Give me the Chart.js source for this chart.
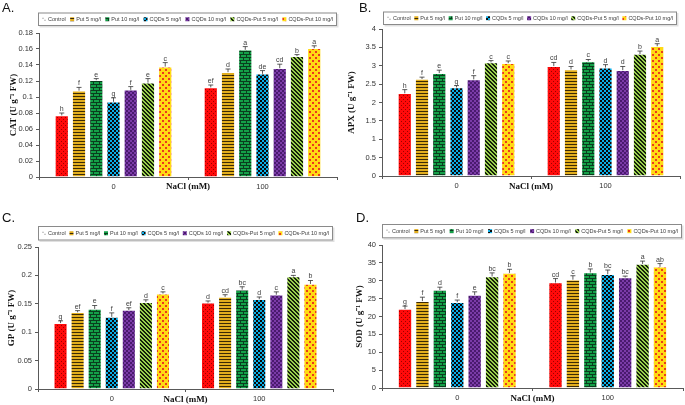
<!DOCTYPE html>
<html><head><meta charset="utf-8">
<script src="https://cdn.jsdelivr.net/npm/chart.js@4.4.1/dist/chart.umd.min.js"></script>
<style>
html,body{margin:0;padding:0;background:#fff;}
body{width:685px;height:405px;position:relative;overflow:hidden;}
.panel{position:absolute;}
.lab{position:absolute;font-family:'Liberation Sans',Arial,sans-serif;font-size:13px;color:#111;line-height:1;}
</style></head><body>
<div class="panel" style="left:0;top:0;width:340px;height:200px"><canvas id="cA"></canvas></div>
<div class="panel" style="left:340px;top:0;width:345px;height:200px"><canvas id="cB"></canvas></div>
<div class="panel" style="left:0;top:200px;width:340px;height:205px"><canvas id="cC"></canvas></div>
<div class="panel" style="left:340px;top:200px;width:345px;height:205px"><canvas id="cD"></canvas></div>
<div class="lab" style="left:2px;top:1px">A.</div>
<div class="lab" style="left:359px;top:1px">B.</div>
<div class="lab" style="left:2px;top:211px">C.</div>
<div class="lab" style="left:356px;top:211px">D.</div>
<script>
// ---------- DATA ----------
const categories = ['0', '100'];
const seriesNames = ['Control', 'Put 5 mg/l', 'Put 10 mg/l', 'CQDs 5 mg/l', 'CQDs 10 mg/l', 'CQDs-Put 5 mg/l', 'CQDs-Put 10 mg/l'];

// A. CAT (one row per series: [NaCl 0, NaCl 100])
const catValues  = [[0.077, 0.112], [0.108, 0.131], [0.121, 0.159], [0.094, 0.129], [0.109, 0.136], [0.118, 0.151], [0.138, 0.161]];
const catErrors  = [[0.003, 0.003], [0.004, 0.004], [0.002, 0.004], [0.005, 0.004], [0.004, 0.005], [0.005, 0.002], [0.005, 0.003]];
const catLetters = [['h', 'ef'], ['f', 'd'], ['e', 'a'], ['g', 'de'], ['f', 'cd'], ['e', 'b'], ['c', 'a']];

// B. APX
const apxValues  = [[2.25, 2.99], [2.64, 2.90], [2.80, 3.12], [2.41, 2.95], [2.63, 2.88], [3.09, 3.32], [3.07, 3.53]];
const apxErrors  = [[0.10, 0.10], [0.05, 0.08], [0.08, 0.05], [0.05, 0.08], [0.10, 0.10], [0.05, 0.08], [0.06, 0.07]];
const apxLetters = [['h', 'cd'], ['f', 'd'], ['e', 'c'], ['g', 'd'], ['f', 'd'], ['c', 'b'], ['c', 'a']];

// C. GP
const gpValues  = [[0.116, 0.152], [0.135, 0.162], [0.141, 0.175], [0.127, 0.158], [0.139, 0.166], [0.153, 0.198], [0.168, 0.185]];
const gpErrors  = [[0.004, 0.003], [0.003, 0.004], [0.006, 0.005], [0.007, 0.004], [0.004, 0.005], [0.004, 0.002], [0.003, 0.006]];
const gpLetters = [['g', 'd'], ['ef', 'cd'], ['e', 'bc'], ['f', 'd'], ['ef', 'c'], ['d', 'a'], ['c', 'b']];

// D. SOD
const sodValues  = [[22.1, 29.5], [24.3, 30.3], [27.4, 32.3], [24.0, 31.8], [26.0, 30.9], [31.2, 34.7], [32.2, 33.9]];
const sodErrors  = [[0.8, 1.1], [1.1, 1.1], [0.8, 1.0], [0.6, 1.2], [0.9, 0.4], [1.0, 0.8], [1.0, 0.9]];
const sodLetters = [['g', 'cd'], ['f', 'c'], ['d', 'b'], ['f', 'bc'], ['e', 'bc'], ['bc', 'a'], ['b', 'ab']];

// axis ranges [min, max, step] and titles
const catAxis = [0, 0.18, 0.02];
const apxAxis = [0, 4, 0.5];
const gpAxis  = [0, 0.25, 0.05];
const sodAxis = [0, 40, 5];
const yTitles = ['CAT (U g\u207B\u00B9 FW)', 'APX (U g\u207B\u00B9 FW)', 'GP (U g\u207B\u00B9 FW)', 'SOD (U g\u207B\u00B9 FW)'];
const xTitle = 'NaCl (mM)';

// ---------- STYLES ----------
const SANS = "'Liberation Sans', Arial, sans-serif";
const SERIF = "'Liberation Serif', 'Times New Roman', serif";

function makePattern(w, h, bg, fg, draw) {
  const c = document.createElement('canvas'); c.width = w; c.height = h;
  const g = c.getContext('2d');
  g.fillStyle = bg; g.fillRect(0, 0, w, h);
  g.fillStyle = fg; draw(g);
  return g.createPattern(c, 'repeat');
}
const patterns = [
  makePattern(4, 4, '#FF0A0A', '#9a0000', g => { g.fillRect(1, 1, 1, 1); g.fillRect(3, 3, 1, 1); }),
  makePattern(3, 3, '#E2AE1E', '#3B2A05', g => { g.fillRect(0, 0, 3, 1); }),
  makePattern(6, 6, '#14A048', '#0A3D1E', g => { g.fillRect(0, 0, 6, 1); g.fillRect(0, 3, 6, 1); g.fillRect(0, 1, 1, 2); g.fillRect(3, 4, 1, 2); }),
  makePattern(4, 4, '#0AAEE8', '#0A0A0A', g => { g.fillRect(0, 0, 2, 2); g.fillRect(2, 2, 2, 2); }),
  makePattern(4, 4, '#7B3BA8', '#4A1A6E', g => { g.fillRect(0, 0, 2, 2); g.fillRect(2, 2, 2, 2); }),
  makePattern(4, 4, '#9AD04E', '#142008', g => { for (let y = 0; y < 4; y++) { g.fillRect(y, y, 1, 1); g.fillRect((y + 1) % 4, y, 1, 1); } }),
  makePattern(6, 6, '#FFDA14', '#EC3A1C', g => { g.fillRect(0, 0, 2, 2); g.fillRect(3, 3, 2, 2); })
];

const annotPlugin = {
  id: 'annot',
  afterDatasetsDraw(chart) {
    const ctx = chart.ctx, ys = chart.scales.y;
    chart.data.datasets.forEach((ds, i) => {
      const meta = chart.getDatasetMeta(i);
      meta.data.forEach((bar, j) => {
        const yt = ys.getPixelForValue(ds.data[j] + ds.errors[j]);
        ctx.save();
        ctx.strokeStyle = '#333'; ctx.lineWidth = 0.8;
        ctx.beginPath();
        ctx.moveTo(bar.x, bar.y); ctx.lineTo(bar.x, yt);
        ctx.moveTo(bar.x - 2.5, yt); ctx.lineTo(bar.x + 2.5, yt);
        ctx.stroke();
        ctx.fillStyle = '#404040'; ctx.font = '7px ' + SANS;
        ctx.textAlign = 'center'; ctx.textBaseline = 'bottom';
        ctx.fillText(ds.letters[j], bar.x, yt - 0.5);
        ctx.restore();
      });
    });
  },
  afterDraw(chart, args, opts) {
    const b = opts.box; if (!b) return;
    const ctx = chart.ctx;
    ctx.save();
    ctx.fillStyle = 'rgba(0,0,0,0.12)';
    ctx.fillRect(b[0] + 1.5, b[1] + 1.5, b[2] - b[0], b[3] - b[1]);
    ctx.fillStyle = '#fff';
    ctx.fillRect(b[0], b[1], b[2] - b[0], b[3] - b[1]);
    ctx.strokeStyle = '#8a8a8a'; ctx.lineWidth = 1;
    ctx.strokeRect(b[0] + 0.5, b[1] + 0.5, b[2] - b[0] - 1, b[3] - b[1] - 1);
    ctx.font = '5.5px ' + SANS;
    const sw = 4, gap = 2, pad = 4;
    const items = chart.data.datasets.map(d => sw + gap + ctx.measureText(d.label).width);
    const total = items.reduce((a, c) => a + c, 0);
    const space = (b[2] - b[0] - 2 * pad - total) / (items.length - 1);
    let x = b[0] + pad;
    const cy = (b[1] + b[3]) / 2;
    chart.data.datasets.forEach((d, i) => {
      if (i === 0) {
        ctx.fillStyle = '#777';
        ctx.fillRect(x + 0.5, cy - 1.5, 1, 1); ctx.fillRect(x + 2.5, cy + 0.5, 1, 1);
      } else {
        ctx.fillStyle = d.backgroundColor;
        ctx.fillRect(x, cy - sw / 2, sw, sw);
      }
      ctx.fillStyle = '#404040'; ctx.textAlign = 'left'; ctx.textBaseline = 'middle';
      ctx.fillText(d.label, x + sw + gap, cy + 0.3);
      x += items[i] + space;
    });
    ctx.restore();
  }
};

function makeChart(id, values, errors, letters, axis, yTitle, L) {
  const datasets = seriesNames.map((name, i) => ({
    label: name, data: values[i], errors: errors[i], letters: letters[i],
    backgroundColor: patterns[i], borderColor: 'rgba(255,255,255,0.55)', borderWidth: 0.8,
    categoryPercentage: 0.81, barPercentage: 0.8
  }));
  return new Chart(document.getElementById(id), {
    type: 'bar',
    data: { labels: categories, datasets },
    plugins: [annotPlugin],
    options: {
      responsive: true, maintainAspectRatio: false, animation: false,
      layout: { padding: { left: 0, right: L.padR, top: L.top, bottom: 0 } },
      plugins: { legend: { display: false }, tooltip: { enabled: false }, annot: { box: L.legend } },
      scales: {
        x: {
          grid: { display: true, drawOnChartArea: false, offset: true, tickLength: 3, color: '#595959' },
          border: { color: '#595959', width: 1 },
          ticks: { color: '#333', font: { family: SANS, size: 7.5 }, padding: 2, maxRotation: 0 },
          title: { display: true, text: xTitle, color: '#111', font: { family: SERIF, size: 9, weight: 'bold' }, padding: { top: 0, bottom: L.xtPad } },
          afterFit: s => { s.height = L.xH; }
        },
        y: {
          min: axis[0], max: axis[1],
          ticks: { stepSize: axis[2], color: '#333', font: { family: SANS, size: 7.5 }, padding: 3, callback: v => String(+v.toFixed(4)) },
          grid: { display: true, drawOnChartArea: false, tickLength: 3, color: '#595959' },
          border: { color: '#595959', width: 1 },
          title: { display: true, text: yTitle, color: '#111', font: { family: SERIF, size: 9, weight: 'bold' }, padding: { top: L.ytPad, bottom: 0 } },
          afterFit: s => { s.width = L.yW; }
        }
      }
    }
  });
}

makeChart('cA', catValues, catErrors, catLetters, catAxis, yTitles[0],
  { padR: 3, top: 33, xH: 23, yW: 39, xtPad: 7.6, ytPad: 8.6, legend: [38, 12.5, 337, 26] });
makeChart('cB', apxValues, apxErrors, apxLetters, apxAxis, yTitles[1],
  { padR: 5, top: 29, xH: 24, yW: 42, xtPad: 7.6, ytPad: 6.6, legend: [43, 11.5, 337, 25] });
makeChart('cC', gpValues, gpErrors, gpLetters, gpAxis, yTitles[2],
  { padR: 7, top: 47, xH: 16, yW: 38, xtPad: 0, ytPad: 6.6, legend: [38, 26, 333, 40.5] });
makeChart('cD', sodValues, sodErrors, sodLetters, sodAxis, yTitles[3],
  { padR: 2, top: 45, xH: 17, yW: 42, xtPad: 0.6, ytPad: 14.6, legend: [42, 24, 342, 38.3] });
</script>
</body></html>
